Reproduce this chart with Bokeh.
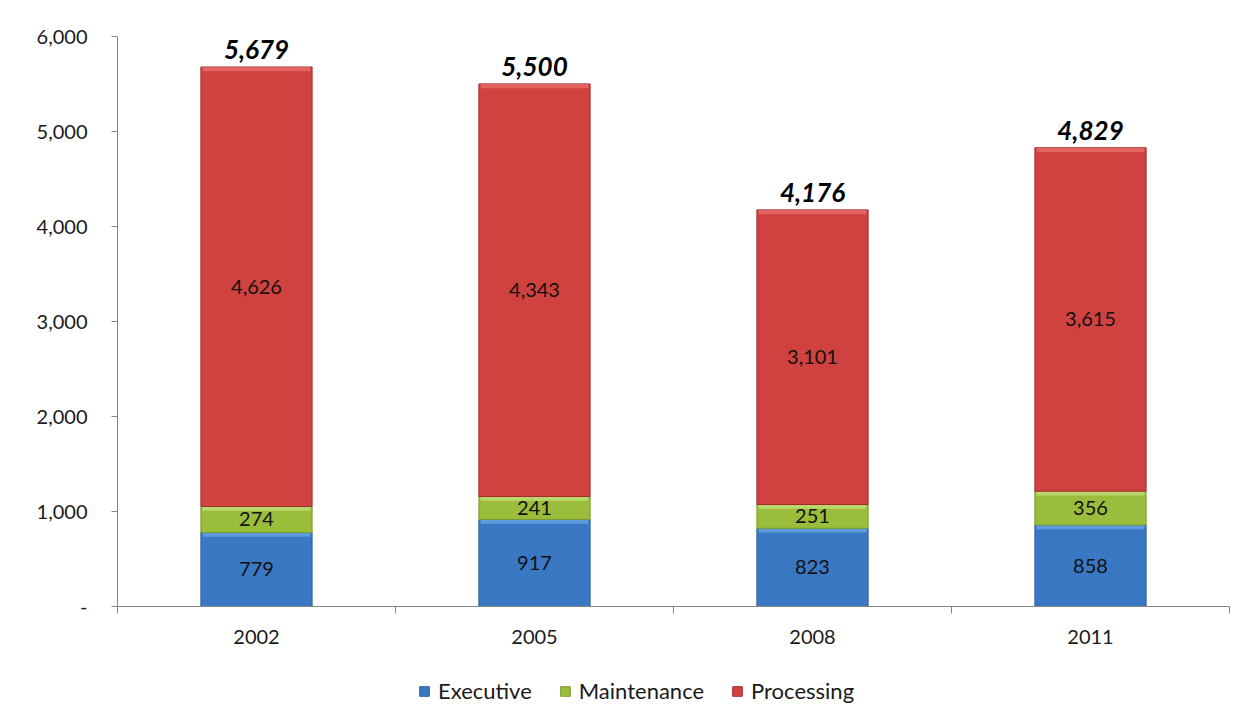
from bokeh.plotting import figure
from bokeh.layouts import column
from bokeh.models import ColumnDataSource, FixedTicker, Legend, LegendItem, CustomJSTickFormatter
from bokeh.core.properties import value
from bokeh.embed import file_html
from bokeh.resources import INLINE

years = ["2002", "2005", "2008", "2011"]
executive = [779, 917, 823, 858]
maintenance = [274, 241, 251, 356]
processing = [4626, 4343, 3101, 3615]
totals = [5679, 5500, 4176, 4829]
y_ticks = [0, 1000, 2000, 3000, 4000, 5000, 6000]

FONT = "Lato"
x = [i + 0.5 for i in range(len(years))]
bw = 0.40

b0 = [0] * len(years)
b1 = executive
b2 = [e + m for e, m in zip(executive, maintenance)]
t2 = [b + p for b, p in zip(b2, processing)]

p = figure(frame_width=1112, frame_height=570, x_range=(0, len(years)), y_range=(0, 6000),
           output_backend="svg", toolbar_location=None,
           min_border_left=117, min_border_right=9, min_border_top=36, min_border_bottom=50)
p.outline_line_color = None
p.xgrid.visible = False
p.ygrid.visible = False
p.background_fill_color = "white"
p.border_fill_color = "white"

series = [
    ("Executive", b0, b1, "#3b78c4", "#2a5f9e", "#78b0ee"),
    ("Maintenance", b1, b2, "#9bbd3c", "#7a9a2a", "#cfe88a"),
    ("Processing", b2, t2, "#d04240", "#a32b29", "#ee7a76"),
]
bevel = 45  # data units for the top highlight band
legend_styles = []
for name, bot, top, col, dark, light in series:
    src = ColumnDataSource(dict(x=x, bottom=bot, top=top))
    p.vbar(x="x", bottom="bottom", top="top", width=bw, source=src,
           fill_color=col, line_color=dark, line_width=1)
    hl = ColumnDataSource(dict(x=x, bottom=[t - bevel for t in top], top=top))
    p.vbar(x="x", bottom="bottom", top="top", width=bw * 0.97, source=hl,
           fill_color=light, fill_alpha=0.6, line_color=None)
    legend_styles.append((name, col, dark))

# segment labels
seg_y = [(a + b) / 2 for a, b in zip(b0, b1)] + [(a + b) / 2 for a, b in zip(b1, b2)] + [(a + b) / 2 for a, b in zip(b2, t2)]
seg_t = [f"{v:,}" for v in executive + maintenance + processing]
p.text(x=x * 3, y=seg_y, text=seg_t, text_align="center", text_baseline="middle",
       text_font=value(FONT), text_font_size="20px", text_color="#111111")

# totals
p.text(x=x, y=totals, text=[f"{v:,}" for v in totals], text_align="center", text_baseline="bottom",
       y_offset=-8, text_font=value(FONT), text_font_size="26px", text_font_style="bold italic",
       text_color="#000000")

# axes
p.yaxis.ticker = FixedTicker(ticks=y_ticks, minor_ticks=[])
p.yaxis.formatter = CustomJSTickFormatter(code="return tick == 0 ? '-' : tick.toLocaleString('en-US');")
p.yaxis.major_label_text_font = FONT
p.yaxis.major_label_text_font_size = "20px"
p.yaxis.major_label_text_color = "#1a1a1a"
p.yaxis.axis_line_color = "#868686"
p.yaxis.major_tick_line_color = "#868686"
p.yaxis.major_tick_out = 6
p.yaxis.major_tick_in = 0
p.yaxis.major_label_standoff = 24

p.xaxis.ticker = FixedTicker(ticks=x, minor_ticks=list(range(len(years) + 1)))
p.xaxis.major_label_overrides = {xx: yr for xx, yr in zip(x, years)}
p.xaxis.major_label_text_font = FONT
p.xaxis.major_label_text_font_size = "20px"
p.xaxis.major_label_text_color = "#1a1a1a"
p.xaxis.axis_line_color = "#868686"
p.xaxis.major_tick_line_color = None
p.xaxis.minor_tick_line_color = "#868686"
p.xaxis.minor_tick_out = 7
p.xaxis.minor_tick_in = 0
p.xaxis.major_label_standoff = 16

# legend in its own strip below the chart
lf = figure(width=1238, height=56, x_range=(0, 1), y_range=(0, 1), output_backend="svg",
            toolbar_location=None, min_border=0, x_axis_location=None, y_axis_location=None)
lf.outline_line_color = None
lf.grid.visible = False
items = []
for name, col, dark in legend_styles:
    r = lf.vbar(x=[-5], top=[-5], bottom=[-6], width=0.1, fill_color=col, line_color=dark)
    items.append(LegendItem(label=name, renderers=[r]))
legend = Legend(items=items, orientation="horizontal", location=(301, 8),
                label_text_font=FONT, label_text_font_size="22px", label_text_color="#1a1a1a",
                glyph_width=12, glyph_height=12, spacing=27, label_standoff=8, padding=4,
                margin=0, border_line_color=None, background_fill_alpha=0)
lf.add_layout(legend, "center")

open("out.html", "w").write(file_html(column(p, lf, spacing=0), INLINE))
